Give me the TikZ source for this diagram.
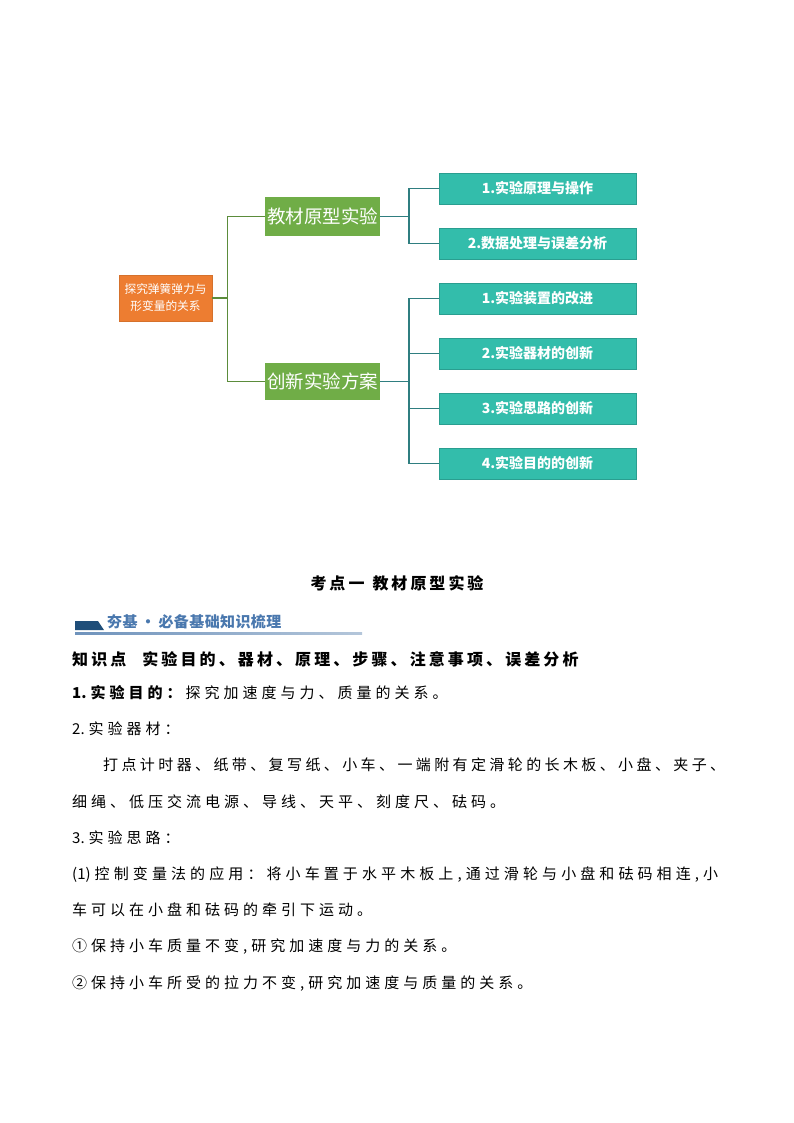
\documentclass[tikz,border=0pt]{standalone}
\usepackage{fontspec}
\setmainfont{Noto Sans CJK SC}
\definecolor{orangebox}{HTML}{ED7D31}
\definecolor{greenbox}{HTML}{70AD47}
\definecolor{greenline}{HTML}{5B8C3B}
\definecolor{tealbox}{HTML}{33BDAB}
\definecolor{tealedge}{HTML}{2A9E90}
\definecolor{tealline}{HTML}{2F7E80}
\definecolor{hdrblue}{HTML}{4A78AE}
\definecolor{hdrbar}{HTML}{1F4E79}
\definecolor{ulineA}{HTML}{6F93BC}
\definecolor{ulineB}{HTML}{B4C6DA}
\makeatletter
\newcommand\spc[2]{\def\spc@first{1}\@tfor\spc@t:=#2\do{\ifx\spc@first\@empty\hspace*{#1}\fi\let\spc@first\@empty\spc@t}}
\newcommand\jst[2]{\makebox[#1][s]{\@tfor\spc@t:=#2\do{\spc@t\hfil}\unskip}}
\makeatother
\begin{document}
\begin{tikzpicture}[x=1pt,y=-1pt,
  rootbox/.style={fill=orangebox, draw=orangebox!90!black, line width=0.5pt, minimum width=93pt, minimum height=46pt, inner sep=0pt, text=white, font=\fontsize{11.7}{17}\selectfont, align=center},
  midbox/.style={fill=greenbox, minimum width=115pt, text=white, font=\fontsize{18.5}{20}\selectfont, inner sep=0pt},
  leafbox/.style={fill=tealbox, draw=tealedge, line width=0.6pt, minimum width=197pt, minimum height=31pt, text=white, font=\bfseries\fontsize{14}{16}\selectfont, inner sep=0pt},
  gline/.style={draw=greenline, line width=1.1pt},
  tline/.style={draw=tealline, line width=1.1pt},
  bodyline/.style={anchor=west, inner sep=0pt, font=\fontsize{15}{18}\selectfont, text height=11pt, text depth=3pt}
]
\path[use as bounding box] (0,0) rectangle (794,1123);

% mind map
\node[rootbox] (root) at (165.5,298) {探究弹簧弹力与\\形变量的关系};
\node[midbox, minimum height=39pt] (g1) at (322.5,216.5) {教材原型实验};
\node[midbox, minimum height=37pt] (g2) at (322.5,381.5) {创新实验方案};
\node[leafbox] (a1) at (537.5,188.5) {1.实验原理与操作};
\node[leafbox] (a2) at (537.5,243.5) {2.数据处理与误差分析};
\node[leafbox] (b1) at (537.5,298.5) {1.实验装置的改进};
\node[leafbox] (b2) at (537.5,353.5) {2.实验器材的创新};
\node[leafbox] (b3) at (537.5,408.5) {3.实验思路的创新};
\node[leafbox] (b4) at (537.5,463.5) {4.实验目的的创新};
\coordinate (t1) at (227.5,298);
\coordinate (t2) at (409,216.5);
\coordinate (t3) at (409,381.5);
\draw[gline] (root.east) -- (t1) |- (g1.west);
\draw[gline] (t1) |- (g2.west);
\draw[tline] (g1.east) -- (t2) |- (a1.west);
\draw[tline] (t2) |- (a2.west);
\draw[tline] (g2.east) -- (t3) |- (b1.west);
\draw[tline] (t3) |- (b2.west);
\draw[tline] (t3) |- (b3.west);
\draw[tline] (t3) |- (b4.west);

% text section
\node[inner sep=0pt, font=\bfseries\fontsize{16}{18}\selectfont] (title) at (397,583) {\spc{3pt}{考点一}\hspace*{8pt}\spc{3pt}{教材原型实验}};
\fill[hdrbar] (75,621) -- (98,621) -- (104,630) -- (75,630) -- cycle;
\shade[left color=ulineA, right color=ulineB] (75,632.6) rectangle (362,634);
\node[anchor=west, inner sep=0pt, text=hdrblue, font=\bfseries\fontsize{15}{18}\selectfont] (hdr) at (107,622) {\spc{0.4pt}{夯基}\hspace*{3pt}·\hspace*{3pt}\spc{0.4pt}{必备基础知识梳理}};
\node[anchor=west, inner sep=0pt, font=\bfseries\fontsize{16}{18}\selectfont] (kp) at (72,659) {\spc{3.1pt}{知识点}\hspace*{16pt}\spc{3.1pt}{实验目的、器材、原理、步骤、注意事项、误差分析}};

\node[bodyline] (l1) at (72,694.5) {\textbf{\spc{4pt}{{1.}实验目的：}}\hspace*{4pt}\spc{4pt}{探究加速度与力、质量的关系。}};
\node[bodyline] (l2) at (72,730.7) {\spc{4pt}{{2.}实验器材：}};
\node[bodyline] (l3) at (103,766.9) {\jst{622pt}{打点计时器、纸带、复写纸、小车、一端附有定滑轮的长木板、小盘、夹子、}};
\node[bodyline] (l4) at (72,803.1) {\spc{4pt}{细绳、低压交流电源、导线、天平、刻度尺、砝码。}};
\node[bodyline] (l5) at (72,839.3) {\spc{4pt}{{3.}实验思路：}};
\node[bodyline] (l6) at (72,875.5) {\jst{646pt}{{(1)}控制变量法的应用：将小车置于水平木板上,通过滑轮与小盘和砝码相连,小}};
\node[bodyline] (l7) at (72,911.7) {\spc{4pt}{车可以在小盘和砝码的牵引下运动。}};
\node[bodyline] (l8) at (72,947.9) {\spc{4pt}{①保持小车质量不变,研究加速度与力的关系。}};
\node[bodyline] (l9) at (72,984.1) {\spc{4pt}{②保持小车所受的拉力不变,研究加速度与质量的关系。}};
\end{tikzpicture}
\end{document}
